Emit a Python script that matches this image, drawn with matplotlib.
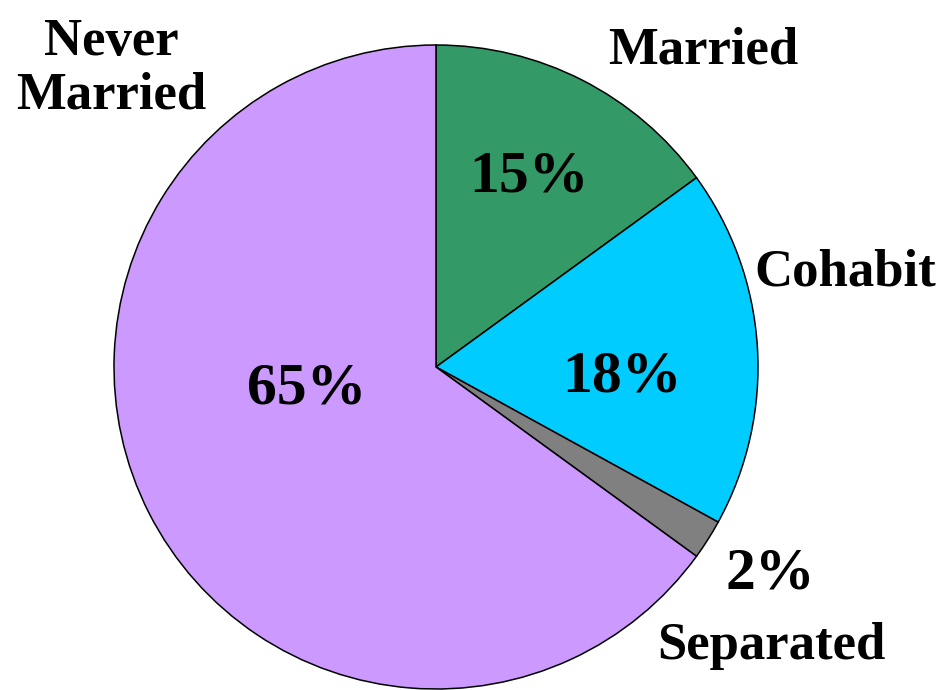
import matplotlib
matplotlib.use('Agg')
import matplotlib.pyplot as plt

# slice data, clockwise from 12 o'clock
labels = ['Married', 'Cohabit', 'Separated', 'Never\nMarried']
shares = [15, 18, 2, 65]
colors = ['#339966', '#00ccff', '#808080', '#cc99ff']

# label / percent positions in pie-radius units
label_pos = [(0.829, 0.984), (1.270, 0.295), (1.040, -0.866), (-1.009, 0.925)]
pct_pos = [(0.289, 0.587), (0.578, -0.034), (1.037, -0.643), (-0.401, -0.071)]

plt.rcParams['font.family'] = ['Liberation Serif', 'DejaVu Serif']

W, H = 943, 690
fig = plt.figure(figsize=(W / 100, H / 100), dpi=100)
cx, cy, R = 436, 367, 322
ax = fig.add_axes([(cx - R) / W, (H - cy - R) / H, 2 * R / W, 2 * R / H])

ax.pie(shares, colors=colors, startangle=90, counterclock=False, radius=1.0,
       wedgeprops=dict(edgecolor='black', linewidth=1.1))
ax.set_xlim(-1, 1)
ax.set_ylim(-1, 1)
ax.set_aspect('auto')
ax.axis('off')

for lab, (x, y) in zip(labels, label_pos):
    ax.text(x, y, lab, ha='center', va='center', fontsize=38,
            fontweight='bold', linespacing=1.15, clip_on=False)

for val, (x, y) in zip(shares, pct_pos):
    ax.text(x, y, f'{val}%', ha='center', va='center', fontsize=43,
            fontweight='bold', clip_on=False)

fig.savefig('out.png', dpi=100, facecolor='white')
